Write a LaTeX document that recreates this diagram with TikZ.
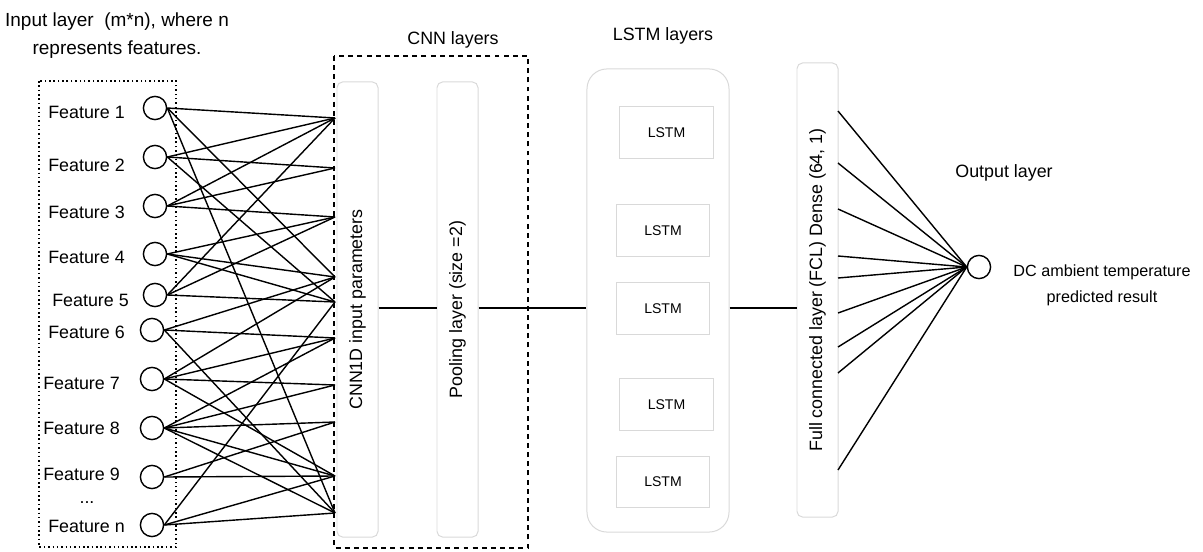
\documentclass[tikz,border=0pt]{standalone}
\usepackage{fontspec}
\setmainfont{Liberation Sans}
\usetikzlibrary{positioning}
\begin{document}
\begin{tikzpicture}[x=0.025cm,y=-0.025cm,
        neuron/.style={circle,draw,line width=1pt,minimum size=0.58cm,inner sep=0pt},
        layerbox/.style={draw=gray!30,line width=0.7pt,rounded corners=4pt,inner sep=0pt,minimum width=1.025cm,font=\fontsize{12.7}{15}\selectfont},
        lstmcell/.style={draw=gray!30,line width=0.7pt,minimum width=2.33cm,minimum height=1.28cm,font=\fontsize{10}{12}\selectfont},
        txt/.style={font=\fontsize{12.7}{15}\selectfont,inner sep=0pt},
        wire/.style={line width=1pt}]
        \useasboundingbox (0,0) rectangle (1203,552);

        % input layer
        \draw[dotted,line width=1.1pt] (39,81) rectangle (176,547);
        \node[txt,align=center,font=\fontsize{13.5}{19.9}\selectfont] (title) at (117,36) {Input layer\ \ (m*n), where n\\represents features.};

        \foreach \n/\x/\y/\lx/\ly/\name in {1/155/108/48/112/Feature 1, 2/155/157/48/165/Feature 2,
            3/155/206/48/212/Feature 3, 4/155/254/48/257/Feature 4, 5/155/295/52/300/Feature 5,
            6/152/330/48/332/Feature 6, 7/152/379/43/383/Feature 7, 8/152/428/43/428/Feature 8,
            9/152/477/43/474/Feature 9, 10/152/525/48/526/Feature n}{
            \node[neuron] (f\n) at (\x,\y) {};
            \node[txt,anchor=west] (l\n) at (\lx,\ly) {\name};
        }
        \node[txt] (dots) at (87,503) {...};

        % entry points on the CNN side
        \foreach \e/\y in {1/118,2/168,3/217,4/277,5/302,6/338,7/385,8/422,9/476,10/513}
            \coordinate (e\e) at (335,\y);

        \foreach \f/\e in {1/1,1/4,1/10,2/1,2/2,2/5,3/1,3/2,3/3,4/3,4/4,4/5,5/1,5/3,5/5,
            6/4,6/6,6/10,7/4,7/6,7/7,7/9,8/6,8/7,8/8,8/9,8/10,9/8,9/9,10/5,10/9,10/10}
            \draw[wire] (f\f.east) -- (e\e);

        % CNN layers
        \draw[line width=1.1pt,dash pattern=on 3.5pt off 3pt] (334,56) rectangle (528,548);
        \node[txt] (cnntitle) at (453,40) {CNN layers};
        \node[layerbox,minimum height=11.375cm] (cnn) at (357.5,309.5) {\rotatebox{90}{CNN1D input parameters}};
        \node[layerbox,minimum height=11.375cm] (pool) at (457.5,309.5) {\rotatebox{90}{Pooling layer (size =2)}};

        % LSTM layers
        \node[txt] (lstmtitle) at (663,36) {LSTM layers};
        \node[draw=gray!30,line width=0.7pt,rounded corners=0.5cm,minimum width=3.55cm,minimum height=11.575cm] (lstm) at (658,300.5) {};
        \foreach \n/\x/\y in {1/666.5/132.5,2/663/230.5,3/663/308.5,4/666.5/404.5,5/663/482}
            \node[lstmcell] (cell\n) at (\x,\y) {LSTM};

        % dense and output
        \node[layerbox,minimum height=11.35cm] (fcl) at (817.5,290) {\rotatebox{90}{Full connected layer (FCL) Dense (64, 1)}};
        \node[neuron] (out) at (979,267) {};
        \node[txt] (outtitle) at (1004,173) {Output layer};
        \node[txt,align=center,font=\fontsize{11.5}{18.4}\selectfont] (result) at (1102,285) {DC ambient temperature\\predicted result};

        \coordinate (mid) at (0,308);
        \draw[wire] (cnn.east |- mid) -- (pool.west |- mid);
        \draw[wire] (pool.east |- mid) -- (lstm.west |- mid);
        \draw[wire] (lstm.east |- mid) -- (fcl.west |- mid);

        \foreach \n/\y in {1/111,2/163,3/209,4/256,5/278,6/313,7/347,8/373,9/470}{
            \coordinate (c\n) at (838,\y);
            \draw[wire] (c\n) -- (out.west);
        }
    \end{tikzpicture}
\end{document}
